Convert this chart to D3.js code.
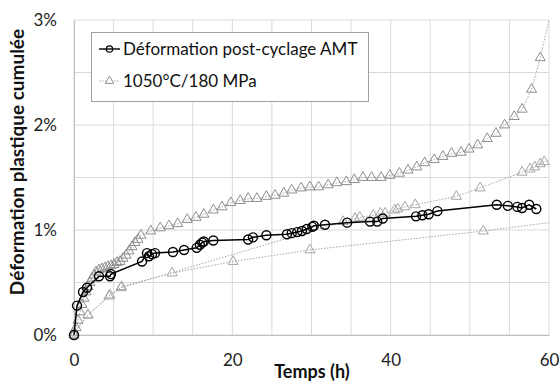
<!DOCTYPE html>
<html><head><meta charset="utf-8">
<script src="https://cdn.jsdelivr.net/npm/d3@7/dist/d3.min.js"></script>
<style>body{margin:0;background:#fff}svg{display:block}</style>
</head><body>
<svg id="c" width="560" height="383"></svg>
<script>
// ---- data ----
const xTicks = [0, 20, 40, 60];
const yTicks = [0, 1, 2, 3];
const seriesNames = ["Déformation post-cyclage AMT", "1050°C/180 MPa"];

// black series (t in h, strain in %)
const amtT = [0, 0.38, 1.14, 1.64, 3.16, 4.55, 4.67, 8.59, 9.22, 9.47, 9.85, 10.23, 12.5, 13.9, 15.5, 15.9, 16.2, 16.4, 17.6, 22.0, 22.6, 24.3, 26.9, 27.5, 28.2, 28.8, 29.4, 30.1, 30.3, 31.7, 34.5, 37.4, 38.3, 39.0, 43.2, 44.0, 44.8, 45.9, 53.4, 54.8, 56.0, 56.6, 57.5, 58.4];
const amtV = [0, 0.28, 0.41, 0.45, 0.56, 0.56, 0.58, 0.70, 0.78, 0.75, 0.77, 0.78, 0.79, 0.81, 0.83, 0.86, 0.88, 0.89, 0.90, 0.91, 0.93, 0.95, 0.96, 0.97, 0.98, 0.99, 1.01, 1.03, 1.04, 1.05, 1.07, 1.08, 1.08, 1.11, 1.13, 1.14, 1.15, 1.18, 1.24, 1.23, 1.22, 1.21, 1.24, 1.20];

// gray series, test A (upper curve)
const upT = [0, 0.25, 0.51, 0.76, 1.01, 1.26, 1.52, 1.77, 2.02, 2.27, 2.53, 2.78, 3.16, 3.54, 3.92, 4.29, 4.67, 5.05, 5.43, 5.81, 6.19, 6.57, 6.95, 7.33, 7.70, 8.08, 8.46, 9.7, 10.9, 12.0, 13.1, 14.3, 15.4, 16.4, 17.6, 18.7, 19.8, 21.0, 22.0, 23.1, 24.3, 25.4, 26.5, 27.5, 28.7, 29.8, 30.9, 32.1, 33.2, 34.4, 35.4, 36.5, 37.6, 38.8, 39.9, 41.1, 42.2, 43.3, 44.3, 45.5, 46.6, 47.7, 48.9, 49.9, 51.0, 52.2, 53.3, 54.4, 55.6, 56.6, 57.8, 58.9];
const upV = [0, 0.07, 0.14, 0.22, 0.29, 0.35, 0.41, 0.46, 0.50, 0.54, 0.57, 0.60, 0.62, 0.63, 0.64, 0.65, 0.66, 0.67, 0.69, 0.70, 0.73, 0.76, 0.80, 0.84, 0.88, 0.91, 0.95, 0.99, 1.02, 1.04, 1.06, 1.10, 1.12, 1.15, 1.19, 1.22, 1.26, 1.28, 1.30, 1.30, 1.32, 1.33, 1.35, 1.38, 1.40, 1.41, 1.41, 1.43, 1.45, 1.46, 1.48, 1.50, 1.50, 1.50, 1.52, 1.54, 1.57, 1.60, 1.64, 1.67, 1.70, 1.73, 1.74, 1.77, 1.81, 1.87, 1.92, 2.00, 2.08, 2.15, 2.34, 2.64];
const upTailT = [60.0];
const upTailV = [3.0];

// gray series, test B (middle curve)
const midT = [0, 1.77, 4.42, 5.94, 34.0, 35.5, 36.1, 37.8, 38.7, 39.3, 40.5, 40.9, 41.8, 43.1, 48.3, 51.3, 56.6, 57.6, 58.2, 58.9, 59.4];
const midV = [0.02, 0.19, 0.37, 0.45, 1.08, 1.11, 1.12, 1.14, 1.16, 1.16, 1.19, 1.20, 1.22, 1.24, 1.32, 1.40, 1.55, 1.58, 1.60, 1.63, 1.65];
const midTailT = [60.0];
const midTailV = [1.67];

// gray series, test C (lower curve)
const lowT = [0, 1.77, 4.55, 6.0, 12.4, 20.1, 29.8, 51.7];
const lowV = [0.02, 0.19, 0.38, 0.46, 0.59, 0.70, 0.81, 0.99];
const lowTailT = [60.0];
const lowTailV = [1.07];

// ---- chart ----
const svg = d3.select("#c");
const x = d3.scaleLinear().domain([0, 60]).range([74, 549]);
const y = d3.scaleLinear().domain([0, 3]).range([335, 20]);
const FONT = "Lato, 'Open Sans', sans-serif";
const zip = (a, b) => a.map((t, i) => [t, b[i]]);

// grid
const g = svg.append("g");
g.selectAll(".vg").data(d3.range(0, 60.01, 5)).join("line")
  .attr("x1", d => x(d)).attr("x2", d => x(d)).attr("y1", y(0)).attr("y2", y(3))
  .attr("stroke", "#d9d9d9").attr("stroke-width", 1);
g.selectAll(".hg").data(d3.range(0, 3.01, 0.5)).join("line")
  .attr("x1", x(0)).attr("x2", x(60)).attr("y1", d => y(d)).attr("y2", d => y(d))
  .attr("stroke", "#d9d9d9").attr("stroke-width", 1);

// axes
const xAxis = svg.append("g").attr("transform", `translate(0,${y(0)})`)
  .call(d3.axisBottom(x).tickValues(xTicks).tickSize(0).tickPadding(19).tickFormat(d3.format("d")));
const yAxis = svg.append("g").attr("transform", `translate(${x(0)},0)`)
  .call(d3.axisLeft(y).tickValues(yTicks).tickSize(0).tickPadding(17).tickFormat(d => d + "%"));
[xAxis, yAxis].forEach(a => {
  a.select(".domain").attr("stroke", "#bfbfbf");
  a.selectAll("text").attr("font-family", FONT).attr("font-size", 17).attr("fill", "#222");
});

svg.append("text").attr("x", 312).attr("y", 378).attr("text-anchor", "middle")
  .attr("font-family", FONT).attr("font-weight", "bold").attr("font-size", 18).attr("fill", "#111")
  .text("Temps (h)");
svg.append("text").attr("transform", "translate(24,162) rotate(-90)").attr("text-anchor", "middle")
  .attr("font-family", FONT).attr("font-weight", "bold").attr("font-size", 19).attr("fill", "#111")
  .text("Déformation plastique cumulée");

const line = d3.line().x(d => x(d[0])).y(d => y(d[1]));
const tri = d3.symbol().type(d3.symbolTriangle).size(44);

const grays = [
  {pts: zip(upT, upV), tail: zip(upTailT, upTailV), stroke: "#8f8f8f"},
  {pts: zip(midT, midV), tail: zip(midTailT, midTailV), stroke: "#a6a6a6"},
  {pts: zip(lowT, lowV), tail: zip(lowTailT, lowTailV), stroke: "#a6a6a6"}
];
grays.forEach(s => {
  svg.append("path").attr("d", line(s.pts.concat(s.tail))).attr("fill", "none")
    .attr("stroke", "#a6a6a6").attr("stroke-width", 1).attr("stroke-dasharray", "1.5,1.5");
});
grays.forEach(s => {
  svg.append("g").selectAll("path").data(s.pts).join("path")
    .attr("d", tri).attr("transform", d => `translate(${x(d[0])},${y(d[1])})`)
    .attr("fill", "none").attr("stroke", s.stroke).attr("stroke-width", 1);
});

const amt = zip(amtT, amtV);
svg.append("path").attr("d", line(amt)).attr("fill", "none").attr("stroke", "#000").attr("stroke-width", 1.5);
svg.append("g").selectAll("circle").data(amt).join("circle")
  .attr("cx", d => x(d[0])).attr("cy", d => y(d[1])).attr("r", 4.5)
  .attr("fill", "none").attr("stroke", "#000").attr("stroke-width", 1.4);

// legend
const lg = svg.append("g");
lg.append("rect").attr("x", 91.5).attr("y", 32.5).attr("width", 277).attr("height", 69)
  .attr("fill", "#fff").attr("stroke", "#a0a0a0").attr("stroke-width", 1);
lg.append("line").attr("x1", 99).attr("x2", 120).attr("y1", 49).attr("y2", 49).attr("stroke", "#000").attr("stroke-width", 1.4);
lg.append("circle").attr("cx", 109.5).attr("cy", 49).attr("r", 3.2).attr("fill", "none").attr("stroke", "#000").attr("stroke-width", 1.2);
lg.append("line").attr("x1", 99).attr("x2", 120).attr("y1", 81).attr("y2", 81).attr("stroke", "#a6a6a6").attr("stroke-width", 1).attr("stroke-dasharray", "1.5,1.5");
lg.append("path").attr("d", d3.symbol().type(d3.symbolTriangle).size(30)).attr("transform", "translate(109.5,81)")
  .attr("fill", "#fff").attr("stroke", "#8f8f8f").attr("stroke-width", 1);
lg.selectAll("text").data(seriesNames).join("text")
  .attr("x", 123).attr("y", (d, i) => 49 + i * 32).attr("dy", "0.36em")
  .attr("font-family", FONT).attr("font-size", 17).attr("fill", "#111").text(d => d);
</script>
</body></html>
